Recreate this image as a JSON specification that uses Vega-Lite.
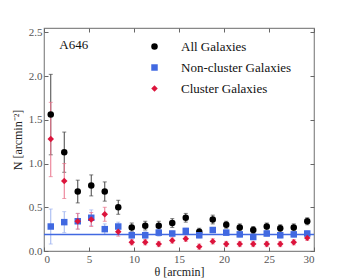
{
  "$schema": "https://vega.github.io/schema/vega-lite/v6.json",
  "autosize": "none",
  "width": 270,
  "height": 223,
  "padding": {"left": 44, "top": 28, "right": 36, "bottom": 29},
  "background": "white",
  "config": {
    "font": "Liberation Serif",
    "view": {"stroke": "#888", "strokeWidth": 1.2},
    "axis": {"grid": false, "domain": false, "tickSize": -4, "tickColor": "#666", "labelColor": "#555", "labelFontSize": 11, "titleFontSize": 12, "titleFontWeight": "normal", "titleColor": "#222", "labelFont": "Liberation Serif", "titleFont": "Liberation Serif"},
    "legend": {"labelFont": "Liberation Serif", "labelFontSize": 13, "labelColor": "#111", "symbolOpacity": 1}
  },
  "datasets": {
    "pts": [
      {"theta": 0.75, "N": 1.56, "lo": 1.10, "hi": 2.02, "series": "All Galaxies"},
      {"theta": 2.25, "N": 1.13, "lo": 0.90, "hi": 1.36, "series": "All Galaxies"},
      {"theta": 3.75, "N": 0.68, "lo": 0.55, "hi": 0.81, "series": "All Galaxies"},
      {"theta": 5.25, "N": 0.75, "lo": 0.63, "hi": 0.87, "series": "All Galaxies"},
      {"theta": 6.75, "N": 0.68, "lo": 0.57, "hi": 0.79, "series": "All Galaxies"},
      {"theta": 8.25, "N": 0.50, "lo": 0.42, "hi": 0.58, "series": "All Galaxies"},
      {"theta": 9.75, "N": 0.27, "lo": 0.22, "hi": 0.32, "series": "All Galaxies"},
      {"theta": 11.25, "N": 0.29, "lo": 0.24, "hi": 0.34, "series": "All Galaxies"},
      {"theta": 12.75, "N": 0.29, "lo": 0.24, "hi": 0.34, "series": "All Galaxies"},
      {"theta": 14.25, "N": 0.32, "lo": 0.27, "hi": 0.37, "series": "All Galaxies"},
      {"theta": 15.75, "N": 0.38, "lo": 0.33, "hi": 0.43, "series": "All Galaxies"},
      {"theta": 17.25, "N": 0.22, "lo": 0.18, "hi": 0.26, "series": "All Galaxies"},
      {"theta": 18.75, "N": 0.36, "lo": 0.31, "hi": 0.41, "series": "All Galaxies"},
      {"theta": 20.25, "N": 0.30, "lo": 0.26, "hi": 0.34, "series": "All Galaxies"},
      {"theta": 21.75, "N": 0.27, "lo": 0.23, "hi": 0.31, "series": "All Galaxies"},
      {"theta": 23.25, "N": 0.24, "lo": 0.20, "hi": 0.28, "series": "All Galaxies"},
      {"theta": 24.75, "N": 0.28, "lo": 0.24, "hi": 0.32, "series": "All Galaxies"},
      {"theta": 26.25, "N": 0.26, "lo": 0.22, "hi": 0.30, "series": "All Galaxies"},
      {"theta": 27.75, "N": 0.27, "lo": 0.23, "hi": 0.31, "series": "All Galaxies"},
      {"theta": 29.25, "N": 0.34, "lo": 0.30, "hi": 0.38, "series": "All Galaxies"},
      {"theta": 0.75, "N": 0.28, "lo": 0.08, "hi": 0.48, "series": "Non-cluster Galaxies"},
      {"theta": 2.25, "N": 0.33, "lo": 0.21, "hi": 0.45, "series": "Non-cluster Galaxies"},
      {"theta": 3.75, "N": 0.34, "lo": 0.25, "hi": 0.43, "series": "Non-cluster Galaxies"},
      {"theta": 5.25, "N": 0.38, "lo": 0.29, "hi": 0.47, "series": "Non-cluster Galaxies"},
      {"theta": 6.75, "N": 0.25, "lo": 0.19, "hi": 0.31, "series": "Non-cluster Galaxies"},
      {"theta": 8.25, "N": 0.28, "lo": 0.23, "hi": 0.33, "series": "Non-cluster Galaxies"},
      {"theta": 9.75, "N": 0.18, "lo": 0.14, "hi": 0.22, "series": "Non-cluster Galaxies"},
      {"theta": 11.25, "N": 0.18, "lo": 0.14, "hi": 0.22, "series": "Non-cluster Galaxies"},
      {"theta": 12.75, "N": 0.21, "lo": 0.17, "hi": 0.25, "series": "Non-cluster Galaxies"},
      {"theta": 14.25, "N": 0.20, "lo": 0.17, "hi": 0.23, "series": "Non-cluster Galaxies"},
      {"theta": 15.75, "N": 0.23, "lo": 0.20, "hi": 0.26, "series": "Non-cluster Galaxies"},
      {"theta": 17.25, "N": 0.18, "lo": 0.15, "hi": 0.21, "series": "Non-cluster Galaxies"},
      {"theta": 18.75, "N": 0.24, "lo": 0.21, "hi": 0.27, "series": "Non-cluster Galaxies"},
      {"theta": 20.25, "N": 0.21, "lo": 0.18, "hi": 0.24, "series": "Non-cluster Galaxies"},
      {"theta": 21.75, "N": 0.19, "lo": 0.16, "hi": 0.22, "series": "Non-cluster Galaxies"},
      {"theta": 23.25, "N": 0.16, "lo": 0.13, "hi": 0.19, "series": "Non-cluster Galaxies"},
      {"theta": 24.75, "N": 0.20, "lo": 0.17, "hi": 0.23, "series": "Non-cluster Galaxies"},
      {"theta": 26.25, "N": 0.18, "lo": 0.15, "hi": 0.21, "series": "Non-cluster Galaxies"},
      {"theta": 27.75, "N": 0.19, "lo": 0.16, "hi": 0.22, "series": "Non-cluster Galaxies"},
      {"theta": 29.25, "N": 0.20, "lo": 0.17, "hi": 0.23, "series": "Non-cluster Galaxies"},
      {"theta": 0.75, "N": 1.28, "lo": 0.85, "hi": 1.70, "series": "Cluster Galaxies"},
      {"theta": 2.25, "N": 0.80, "lo": 0.60, "hi": 1.00, "series": "Cluster Galaxies"},
      {"theta": 3.75, "N": 0.34, "lo": 0.25, "hi": 0.43, "series": "Cluster Galaxies"},
      {"theta": 5.25, "N": 0.36, "lo": 0.28, "hi": 0.44, "series": "Cluster Galaxies"},
      {"theta": 6.75, "N": 0.42, "lo": 0.34, "hi": 0.50, "series": "Cluster Galaxies"},
      {"theta": 8.25, "N": 0.22, "lo": 0.17, "hi": 0.27, "series": "Cluster Galaxies"},
      {"theta": 9.75, "N": 0.10, "lo": 0.07, "hi": 0.13, "series": "Cluster Galaxies"},
      {"theta": 11.25, "N": 0.10, "lo": 0.07, "hi": 0.13, "series": "Cluster Galaxies"},
      {"theta": 12.75, "N": 0.08, "lo": 0.05, "hi": 0.11, "series": "Cluster Galaxies"},
      {"theta": 14.25, "N": 0.12, "lo": 0.09, "hi": 0.15, "series": "Cluster Galaxies"},
      {"theta": 15.75, "N": 0.14, "lo": 0.11, "hi": 0.17, "series": "Cluster Galaxies"},
      {"theta": 17.25, "N": 0.05, "lo": 0.02, "hi": 0.08, "series": "Cluster Galaxies"},
      {"theta": 18.75, "N": 0.11, "lo": 0.08, "hi": 0.14, "series": "Cluster Galaxies"},
      {"theta": 20.25, "N": 0.08, "lo": 0.05, "hi": 0.11, "series": "Cluster Galaxies"},
      {"theta": 21.75, "N": 0.08, "lo": 0.05, "hi": 0.11, "series": "Cluster Galaxies"},
      {"theta": 23.25, "N": 0.08, "lo": 0.05, "hi": 0.11, "series": "Cluster Galaxies"},
      {"theta": 24.75, "N": 0.08, "lo": 0.05, "hi": 0.11, "series": "Cluster Galaxies"},
      {"theta": 26.25, "N": 0.08, "lo": 0.05, "hi": 0.11, "series": "Cluster Galaxies"},
      {"theta": 27.75, "N": 0.10, "lo": 0.07, "hi": 0.13, "series": "Cluster Galaxies"},
      {"theta": 29.25, "N": 0.15, "lo": 0.12, "hi": 0.18, "series": "Cluster Galaxies"}
    ],
    "lbl": [{"theta": 3.3, "N": 2.36, "label": "A646"}],
    "bg": [{"N": 0.19}]
  },
  "resolve": {"axis": {"x": "independent", "y": "independent"}},
  "layer": [
    {
      "data": {"name": "pts"},
      "transform": [{"filter": "datum.series === 'All Galaxies'"}],
      "layer": [
        {"mark": {"type": "rule", "strokeWidth": 1, "color": "#444444"},
         "encoding": {
           "x": {"field": "theta", "type": "quantitative", "scale": {"domain": [0, 30], "nice": false}, "axis": null},
           "y": {"field": "lo", "type": "quantitative", "scale": {"domain": [0, 2.55], "nice": false}, "axis": null},
           "y2": {"field": "hi"}}},
        {"mark": {"type": "tick", "orient": "horizontal", "size": 4, "thickness": 1, "color": "#444444"},
         "encoding": {"x": {"field": "theta", "type": "quantitative", "axis": null}, "y": {"field": "lo", "type": "quantitative", "axis": null}}},
        {"mark": {"type": "tick", "orient": "horizontal", "size": 4, "thickness": 1, "color": "#444444"},
         "encoding": {"x": {"field": "theta", "type": "quantitative", "axis": null}, "y": {"field": "hi", "type": "quantitative", "axis": null}}}
      ]
    },
    {
      "data": {"name": "pts"},
      "transform": [{"filter": "datum.series === 'Non-cluster Galaxies'"}],
      "layer": [
        {"mark": {"type": "rule", "strokeWidth": 1, "color": "#9fb4f0"},
         "encoding": {
           "x": {"field": "theta", "type": "quantitative", "axis": null},
           "y": {"field": "lo", "type": "quantitative", "axis": null},
           "y2": {"field": "hi"}}},
        {"mark": {"type": "tick", "orient": "horizontal", "size": 4, "thickness": 1, "color": "#9fb4f0"},
         "encoding": {"x": {"field": "theta", "type": "quantitative", "axis": null}, "y": {"field": "lo", "type": "quantitative", "axis": null}}},
        {"mark": {"type": "tick", "orient": "horizontal", "size": 4, "thickness": 1, "color": "#9fb4f0"},
         "encoding": {"x": {"field": "theta", "type": "quantitative", "axis": null}, "y": {"field": "hi", "type": "quantitative", "axis": null}}}
      ]
    },
    {
      "data": {"name": "pts"},
      "transform": [{"filter": "datum.series === 'Cluster Galaxies'"}],
      "layer": [
        {"mark": {"type": "rule", "strokeWidth": 1, "color": "#ea728a"},
         "encoding": {
           "x": {"field": "theta", "type": "quantitative", "axis": null},
           "y": {"field": "lo", "type": "quantitative", "axis": null},
           "y2": {"field": "hi"}}},
        {"mark": {"type": "tick", "orient": "horizontal", "size": 4, "thickness": 1, "color": "#ea728a"},
         "encoding": {"x": {"field": "theta", "type": "quantitative", "axis": null}, "y": {"field": "lo", "type": "quantitative", "axis": null}}},
        {"mark": {"type": "tick", "orient": "horizontal", "size": 4, "thickness": 1, "color": "#ea728a"},
         "encoding": {"x": {"field": "theta", "type": "quantitative", "axis": null}, "y": {"field": "hi", "type": "quantitative", "axis": null}}}
      ]
    },
    {
      "data": {"name": "bg"},
      "mark": {"type": "rule", "color": "#4169E1", "strokeWidth": 1.5},
      "encoding": {
        "y": {"field": "N", "type": "quantitative", "axis": null}
      }
    },
    {
      "data": {"name": "pts"},
      "mark": {"type": "point", "filled": true, "opacity": 1},
      "encoding": {
        "x": {"field": "theta", "type": "quantitative", "axis": {"values": [0, 5, 10, 15, 20, 25, 30], "title": "θ [arcmin]", "labelPadding": 6, "titlePadding": 2}},
        "y": {"field": "N", "type": "quantitative", "axis": {"values": [0, 0.5, 1, 1.5, 2, 2.5], "format": ".1f", "title": "N [arcmin⁻²]", "labelPadding": 6, "titlePadding": 4}},
        "color": {"field": "series", "type": "nominal", "scale": {"domain": ["All Galaxies", "Non-cluster Galaxies", "Cluster Galaxies"], "range": ["#000000", "#4169E1", "#DC143C"]}, "legend": {"orient": "none", "legendX": 104, "legendY": 12, "title": null, "rowPadding": 7, "labelOffset": 20, "symbolOpacity": 1}},
        "shape": {"field": "series", "type": "nominal", "scale": {"domain": ["All Galaxies", "Non-cluster Galaxies", "Cluster Galaxies"], "range": ["circle", "square", "diamond"]}},
        "size": {"field": "series", "type": "nominal", "scale": {"domain": ["All Galaxies", "Non-cluster Galaxies", "Cluster Galaxies"], "range": [42, 42, 26]}}
      }
    },
    {
      "data": {"name": "lbl"},
      "mark": {"type": "text", "fontSize": 13, "font": "Liberation Serif", "color": "#111"},
      "encoding": {
        "x": {"field": "theta", "type": "quantitative", "axis": {"orient": "top", "values": [0, 5, 10, 15, 20, 25, 30], "labels": false, "title": null}},
        "y": {"field": "N", "type": "quantitative", "axis": {"orient": "right", "values": [0, 0.5, 1, 1.5, 2, 2.5], "labels": false, "title": null}},
        "text": {"field": "label"}
      }
    }
  ]
}
